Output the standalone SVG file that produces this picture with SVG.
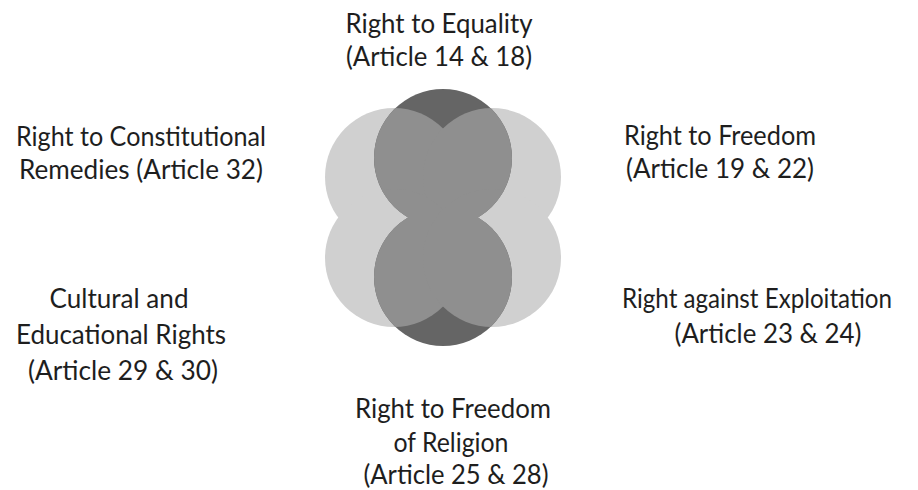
<svg xmlns="http://www.w3.org/2000/svg" width="918" height="490" viewBox="0 0 918 490">
  <style>
    .lbl { font-family: Lato, "Open Sans", "Liberation Sans", sans-serif; font-size: 26px; fill: #1e1e1e; text-anchor: middle; }
    .side { fill: #d0d0d0; }
    .core { fill: #656565; }
    .mid { fill: #8f8f8f; }
  </style>
  <defs>
    <clipPath id="coreClip">
      <circle cx="443" cy="158" r="69"/>
      <circle cx="443" cy="277" r="69"/>
    </clipPath>
  </defs>
  <rect width="918" height="490" fill="#ffffff"/>

  <g id="node-remedies">
    <circle class="side" cx="394" cy="177" r="69"/>
    <text class="lbl" x="141" y="146" textLength="250" lengthAdjust="spacingAndGlyphs">Right to Constitutional</text>
    <text class="lbl" x="141" y="179" textLength="244" lengthAdjust="spacingAndGlyphs">Remedies (Article 32)</text>
  </g>
  <g id="node-freedom">
    <circle class="side" cx="492" cy="177" r="69"/>
    <text class="lbl" x="720" y="145" textLength="192" lengthAdjust="spacingAndGlyphs">Right to Freedom</text>
    <text class="lbl" x="720" y="178" textLength="188" lengthAdjust="spacingAndGlyphs">(Article 19 &amp; 22)</text>
  </g>
  <g id="node-cultural">
    <circle class="side" cx="394" cy="258" r="69"/>
    <text class="lbl" x="119" y="308" textLength="139" lengthAdjust="spacingAndGlyphs">Cultural and</text>
    <text class="lbl" x="121" y="344" textLength="210" lengthAdjust="spacingAndGlyphs">Educational Rights</text>
    <text class="lbl" x="123" y="380" textLength="190" lengthAdjust="spacingAndGlyphs">(Article 29 &amp; 30)</text>
  </g>
  <g id="node-exploitation">
    <circle class="side" cx="492" cy="258" r="69"/>
    <text class="lbl" x="757" y="308" textLength="270" lengthAdjust="spacingAndGlyphs">Right against Exploitation</text>
    <text class="lbl" x="768" y="343" textLength="187" lengthAdjust="spacingAndGlyphs">(Article 23 &amp; 24)</text>
  </g>
  <g id="node-equality">
    <circle class="core" cx="443" cy="158" r="69"/>
    <text class="lbl" x="439" y="33" textLength="187" lengthAdjust="spacingAndGlyphs">Right to Equality</text>
    <text class="lbl" x="439" y="66" textLength="186" lengthAdjust="spacingAndGlyphs">(Article 14 &amp; 18)</text>
  </g>
  <g id="node-religion">
    <circle class="core" cx="443" cy="277" r="69"/>
    <text class="lbl" x="453" y="418" textLength="196" lengthAdjust="spacingAndGlyphs">Right to Freedom</text>
    <text class="lbl" x="451" y="452" textLength="115" lengthAdjust="spacingAndGlyphs">of Religion</text>
    <text class="lbl" x="456" y="484" textLength="185" lengthAdjust="spacingAndGlyphs">(Article 25 &amp; 28)</text>
  </g>

  <g id="overlaps" clip-path="url(#coreClip)">
    <circle class="mid" cx="394" cy="177" r="69"/>
    <circle class="mid" cx="492" cy="177" r="69"/>
    <circle class="mid" cx="394" cy="258" r="69"/>
    <circle class="mid" cx="492" cy="258" r="69"/>
  </g>
</svg>
